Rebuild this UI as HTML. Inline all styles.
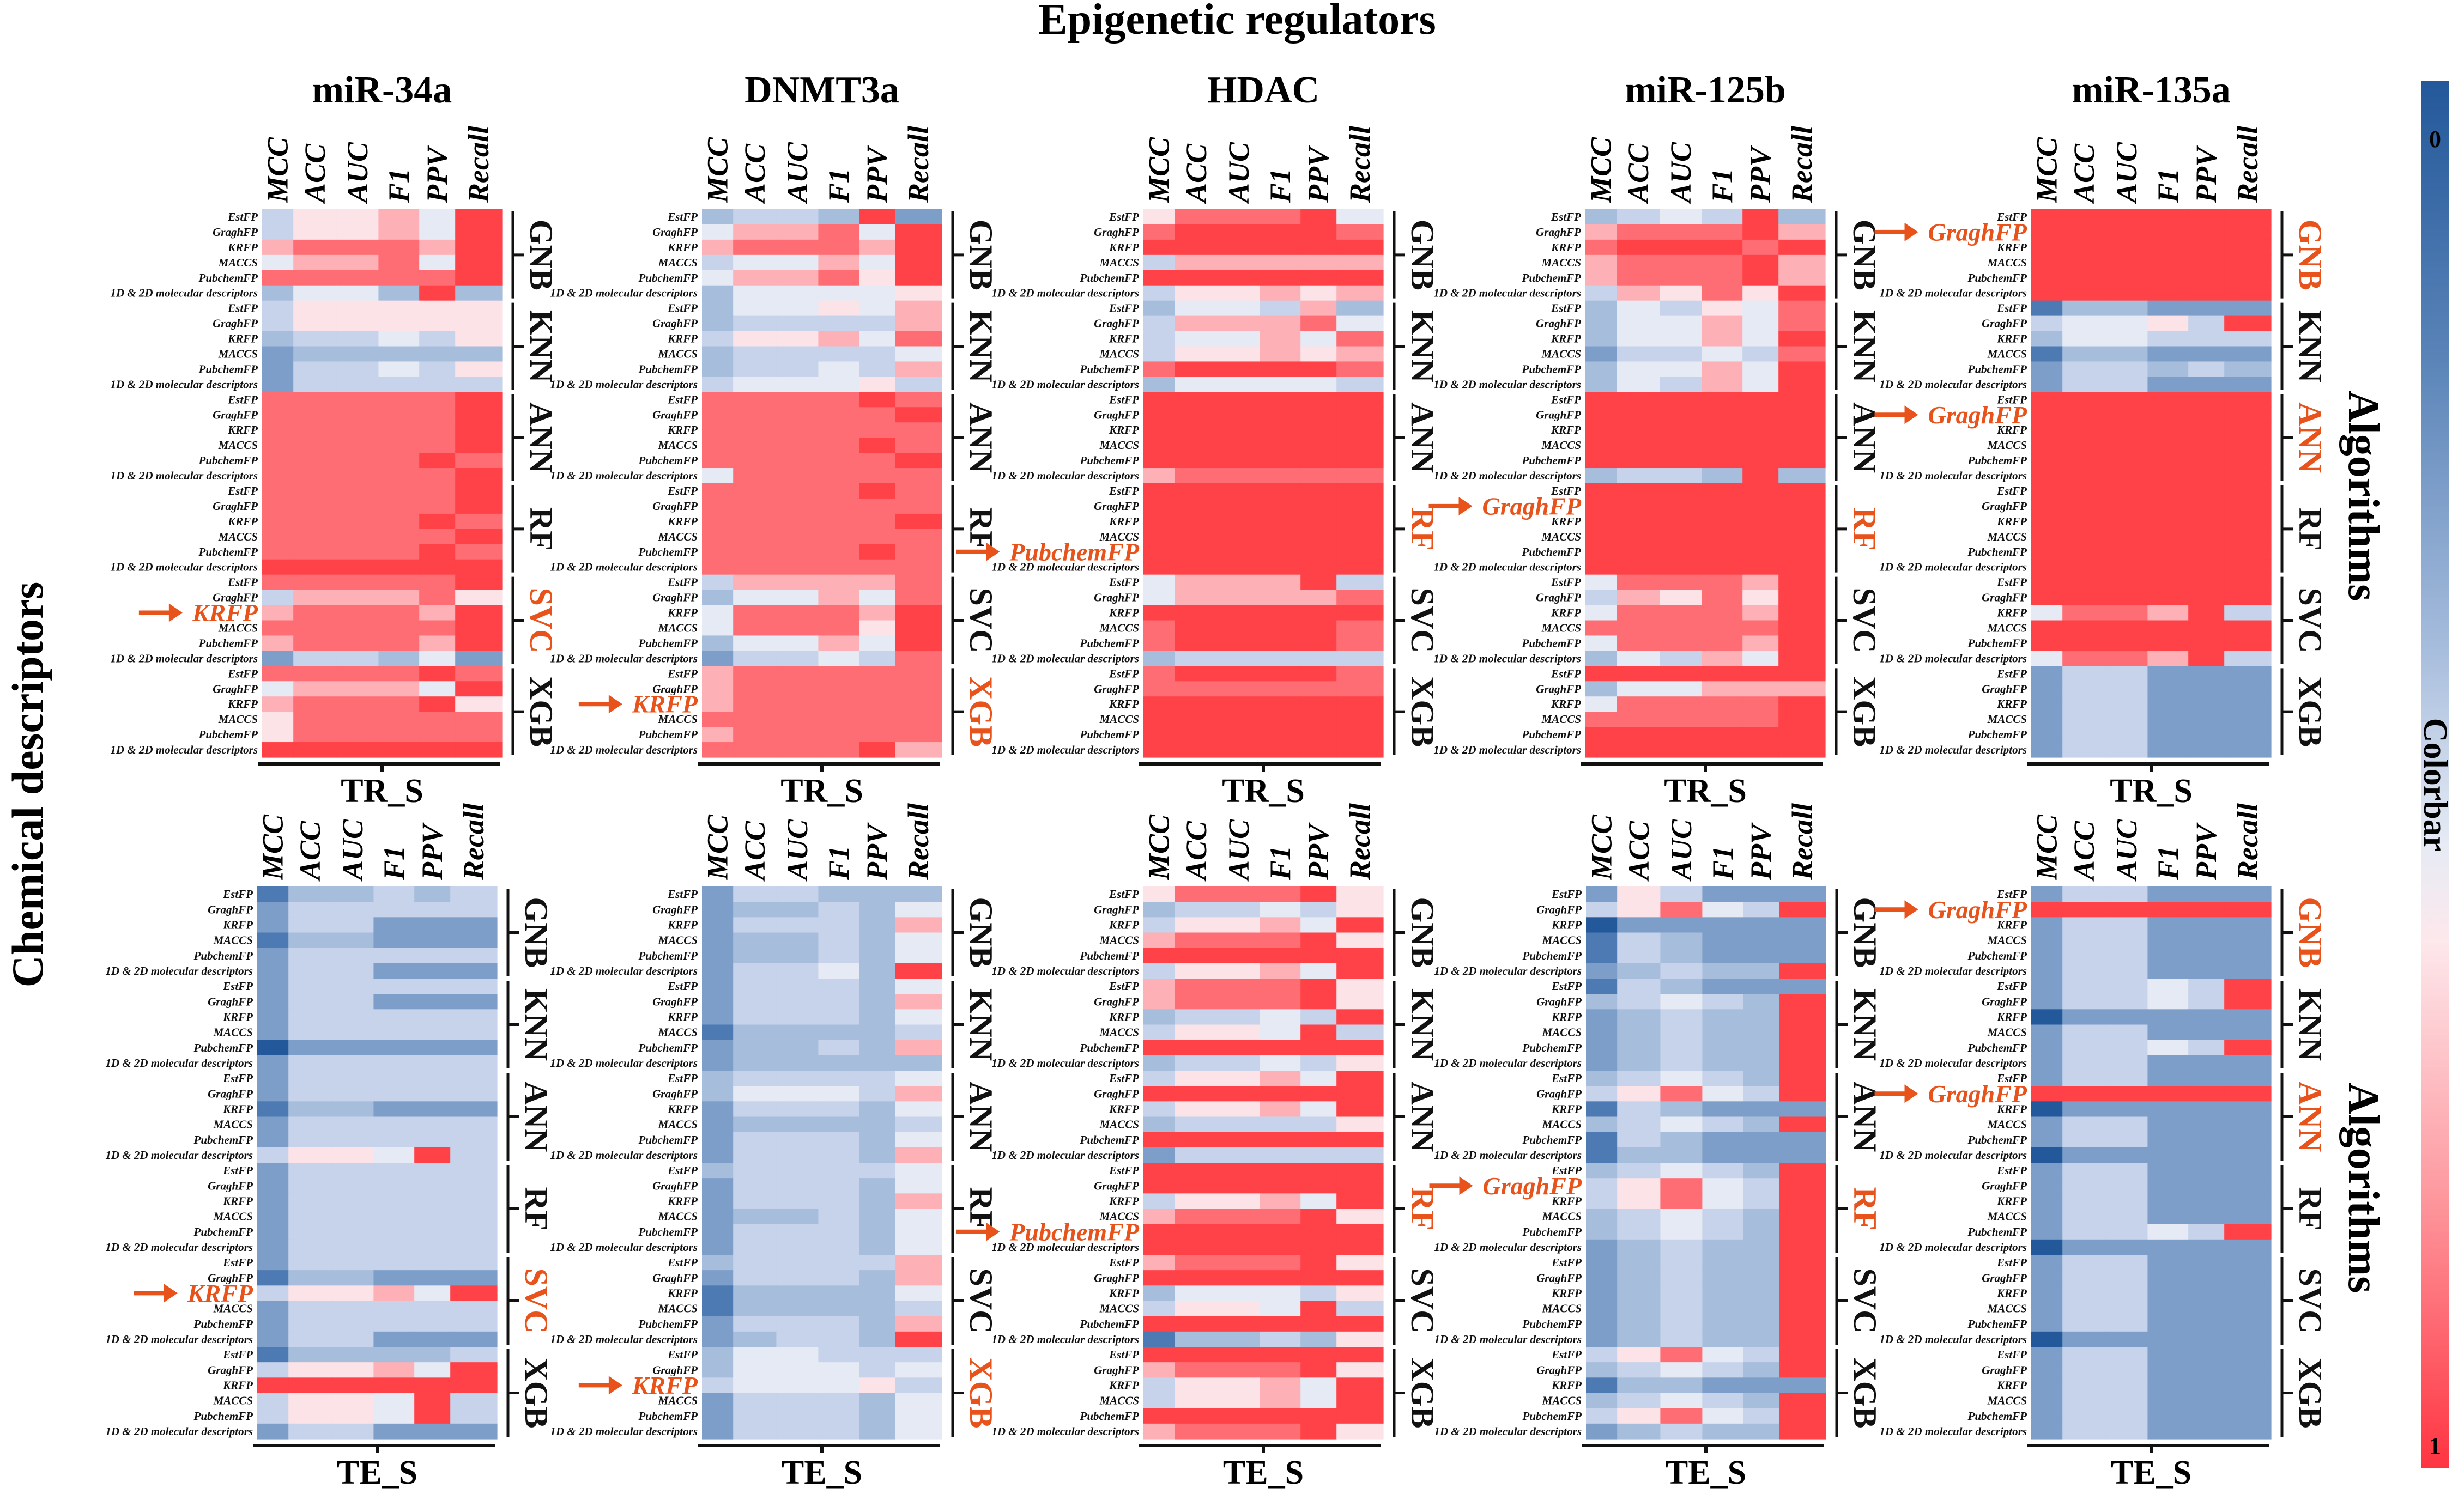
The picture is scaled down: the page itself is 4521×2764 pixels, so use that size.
<!DOCTYPE html>
<html><head><meta charset="utf-8">
<style>
html,body{margin:0;padding:0;background:#fff;}
svg{display:block;font-family:"Liberation Serif",serif;}
</style></head>
<body>
<svg id="fig" width="4521" height="2764" viewBox="0 0 4521 2764" xmlns="http://www.w3.org/2000/svg">
<defs>
<linearGradient id="cbar" x1="0" y1="0" x2="0" y2="1">
<stop offset="0" stop-color="#23589a"/><stop offset="0.2" stop-color="#5a84b8"/>
<stop offset="0.4" stop-color="#a3badb"/><stop offset="0.55" stop-color="#e6ebf5"/>
<stop offset="0.62" stop-color="#fde8ec"/><stop offset="0.8" stop-color="#fd9aa0"/>
<stop offset="1" stop-color="#ff3441"/>
</linearGradient>
</defs>
<text x="2270" y="62" font-size="80" font-weight="bold" text-anchor="middle">Epigenetic regulators</text>
<text transform="translate(78,1440) rotate(-90)" font-size="82" font-weight="bold" text-anchor="middle">Chemical descriptors</text>
<text transform="translate(4310,910) rotate(90)" font-size="80" font-weight="bold" text-anchor="middle">Algorithms</text>
<text transform="translate(4310,2180) rotate(90)" font-size="80" font-weight="bold" text-anchor="middle">Algorithms</text>
<rect x="4442" y="148" width="52" height="2547" fill="url(#cbar)"/>
<text x="4468" y="270" font-size="44" font-weight="bold" text-anchor="middle">0</text>
<text x="4468" y="2668" font-size="44" font-weight="bold" text-anchor="middle">1</text>
<text transform="translate(4468,1440) rotate(90)" font-size="62" font-weight="bold" text-anchor="middle" dominant-baseline="central">Colorbar</text>
<g id="panels"></g>
</svg>
<script>
// ---- data (digit d => value d/9) ----
const metrics = ["MCC","ACC","AUC","F1","PPV","Recall"];
const algorithms = ["GNB","KNN","ANN","RF","SVC","XGB"];
const descriptors = ["EstFP","GraghFP","KRFP","MACCS","PubchemFP","1D & 2D molecular descriptors"];
const panelTitles = ["miR-34a","DNMT3a","HDAC","miR-125b","miR-135a"];
const rowSetLabels = ["TR_S","TE_S"];

const mir34aTR = ["466759","466759","788879","577859","888889","355393",
"466666","466666","344546","233333","244546","244444",
"888889","888889","888889","888889","888898","888889",
"888889","888889","888898","888889","888898","999999",
"888889","477786","788879","888889","788879","244352",
"888898","577759","788896","688888","688888","999999"];
const dnmt3aTR = ["344392","577859","788879","455759","577869","355556",
"355657","344447","466758","344445","344547","455564",
"888898","888889","888888","888898","888889","588888",
"888898","888888","888889","888888","888898","888888",
"477778","355758","588879","588869","355759","244548",
"788888","788888","788888","888888","788888","888897"];
const hdacTR = ["688895","899998","999999","477777","999999","466767",
"355473","477785","455758","466767","899998","355554",
"999999","999999","999999","999999","999999","788888",
"999999","999999","999999","999999","999999","999999",
"577794","577778","999999","899998","899998","344444",
"899998","888888","999999","999999","999999","999999"];
const mir125bTR = ["345493","788897","899989","788897","788897","476869",
"354658","355758","355759","244548","355759","354759",
"999999","999999","999999","999999","999999","344393",
"999999","999999","999999","999999","999999","999999",
"588879","476869","588879","888889","588879","354759",
"999999","355777","588889","888889","999999","999999"];
const mir135aTR = ["999999","999999","999999","999999","999999","999999",
"133222","455649","355444","133222","244343","244222",
"999999","999999","999999","999999","999999","999999",
"999999","999999","999999","999999","999999","999999",
"999999","999999","588794","999999","999999","588794",
"244222","244222","244222","244222","244222","244222"];
const mir34aTE = ["133434","244444","244222","133222","244444","244222",
"244444","244222","244444","244444","022222","244444",
"244444","244444","133222","244444","244444","466594",
"244444","244444","244444","244444","244444","244444",
"244444","133222","466759","244444","244444","244222",
"133334","466759","999999","466594","466594","244222"];
const dnmt3aTE = ["244333","233435","244437","233435","233435","244539",
"244435","244437","244435","133334","233437","233333",
"344445","355547","244435","233334","244435","244437",
"344445","244435","244437","233435","244435","244435",
"344447","244437","133335","133334","244437","234439",
"355444","355545","455564","244435","244435","244435"];
const hdacTE = ["688896","344546","466759","788896","999999","466759",
"788896","788896","344549","466594","999999","344546",
"466759","999999","466759","344446","999999","244444",
"999999","999999","466759","788896","999999","999999",
"788896","999999","355546","466594","999999","133436",
"999999","788896","466759","466759","999999","788896"];
const mir125bTE = ["264222","468549","022222","143222","143222","234339",
"143222","345439","234339","234339","234339","234339",
"345439","468549","143222","345439","143222","133222",
"345439","468549","468549","345439","345439","234339",
"234339","234339","234339","234339","234339","234339",
"468549","345439","133222","345439","468549","234339"];
const mir135aTE = ["244222","999999","244222","244222","244222","244222",
"244549","244549","022222","244222","244549","244222",
"244222","999999","022222","244222","244222","022222",
"244222","244222","244222","244222","244549","022222",
"244222","244222","244222","244222","244222","022222",
"244222","244222","244222","244222","244222","244222"];

const panelData = [mir34aTR,dnmt3aTR,hdacTR,mir125bTR,mir135aTR,mir34aTE,dnmt3aTE,hdacTE,mir125bTE,mir135aTE];
const highlightRows = [[26],[32],[22],[19],[1,13],[26],[32],[22],[19],[1,13]];
const highlightGroups = [[4],[5],[3],[3],[0,2],[4],[5],[3],[3],[0,2]];

// ---- layout ----
const panelLeft = [481,1288,2098,2909,3727,472,1288,2098,2910,3727];
const panelW = 440;
const rowTop = [384,1627];
const rowBottom = [1390,2641];
const colEdges = [0,.13,.31,.485,.655,.805,1];
const stops = ["#23589a","#4d7ab2","#7d9ec9","#a7bddc","#c6d3ea","#e6eaf5","#fbe3e8","#fdb0b6","#fe6d73","#ff4148"];
function hex(c){return [1,3,5].map(i=>parseInt(c.substr(i,2),16));}
function color(v){
  const t=Math.max(0,Math.min(1,v))*9, i=Math.min(8,Math.floor(t)), f=t-i;
  const a=hex(stops[i]), b=hex(stops[i+1]);
  return "rgb("+a.map((x,k)=>Math.round(x+(b[k]-x)*f)).join(",")+")";
}
const NS="http://www.w3.org/2000/svg";
const root=document.getElementById("panels");
function mk(tag,attrs,parent){const e=document.createElementNS(NS,tag);for(const k in attrs)e.setAttribute(k,attrs[k]);(parent||root).appendChild(e);return e;}
const ORANGE="#e8531c";

panelData.forEach((rows,p)=>{
  const r = p<5?0:1;
  const x0=panelLeft[p], x1=x0+panelW, y0=rowTop[r], y1=rowBottom[r];
  const nR=rows.length, rh=(y1-y0)/nR;
  const xs=i=>x0+colEdges[i]*panelW;
  const ys=j=>y0+j*rh;
  const g=mk("g",{});
  
  
  rows.forEach((s,j)=>{
    for(let i=0;i<metrics.length;i++){
      const v=parseInt(s[i])/9;
      const c=mk("rect",{x:xs(i),y:ys(j),width:xs(i+1)-xs(i)+0.6,height:rh+0.6,fill:color(v)},g);
      
      
    }
    const hl = highlightRows[p].indexOf(j)>=0;
    const t=mk("text",{x:x0-8,y:ys(j)+rh/2,"text-anchor":"end","dominant-baseline":"central","font-style":"italic","font-weight":"bold","font-size":hl?46:21,fill:hl?ORANGE:"#111"},g);
    t.textContent=descriptors[j%6];
    
    
    if(hl){
      let w=t.getComputedTextLength?t.getComputedTextLength():descriptors[j%6].length*24;
      const ax=x0-8-w-18, ay=ys(j)+rh/2;
      const a=mk("path",{d:`M${ax-80},${ay-4}h55v-13l25,17l-25,17v-13h-55z`,fill:ORANGE},g);
      
      
    }
  });
  metrics.forEach((m,i)=>{
    const cx=(xs(i)+xs(i+1))/2;
    const t=mk("text",{transform:`translate(${cx},${y0-12}) rotate(-90)`,"font-size":54,"font-style":"italic","font-weight":"bold","dominant-baseline":"central"},g);
    t.textContent=m;
    
    
  });
  if(r===0){
    const tt=mk("text",{x:(x0+x1)/2,y:188,"font-size":70,"font-weight":"bold","text-anchor":"middle"},g);
    tt.textContent=panelTitles[p];
    
    
  }
  algorithms.forEach((a,k)=>{
    const gy0=ys(k*6)+4, gy1=ys(k*6+6)-4, gm=(gy0+gy1)/2, bx=x1+20;
    const br=mk("path",{d:`M${bx},${gy0}V${gy1}M${bx},${gm}H${bx+20}`,stroke:"#111","stroke-width":5,fill:"none"},g);
    
    
    const org=highlightGroups[p].indexOf(k)>=0;
    const t=mk("text",{transform:`translate(${x1+72},${gm}) rotate(90)`,"font-size":60,"font-weight":"600","text-anchor":"middle","dominant-baseline":"central",fill:org?ORANGE:"#111"},g);
    t.textContent=a;
    
    
  });
  const ax=mk("path",{d:`M${x0-8},${y1+12}H${x1-4}M${(x0+x1)/2},${y1+12}v14`,stroke:"#111","stroke-width":6,fill:"none"},g);
  
  
  const xl=mk("text",{x:(x0+x1)/2,y:y1+82,"font-size":62,"font-weight":"bold","text-anchor":"middle"},g);
  xl.textContent=rowSetLabels[r];
  
  
});
</script>
</body></html>
